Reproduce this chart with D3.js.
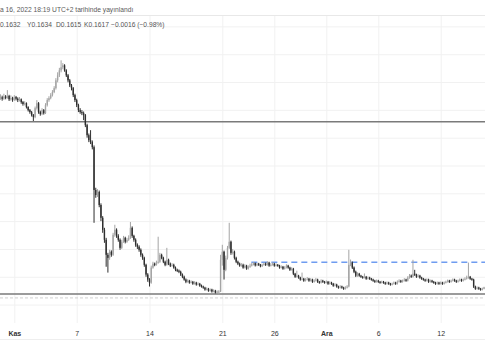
<!DOCTYPE html>
<html><head><meta charset="utf-8">
<script src="https://cdn.jsdelivr.net/npm/d3@7"></script>
<style>
html,body{margin:0;padding:0;background:#fff;overflow:hidden}
svg{display:block;font-family:"Liberation Sans",Arial,sans-serif}
</style></head><body>
<svg id="c" width="485" height="360"></svg>
<script>
const headerLine = "a 16, 2022 18:19 UTC+2 tarihinde yayınlandı";
const ohlcLabels = ["0.1632", "Y0.1634", "D0.1615", "K0.1617", "−0.0016 (−0.98%)"];
const tickDates = ["2022-11-01", "2022-11-07", "2022-11-14", "2022-11-21", "2022-11-26", "2022-12-01", "2022-12-06", "2022-12-12"];
const tickLabels = ["Kas", "7", "14", "21", "26", "Ara", "6", "12"];
const boldTicks = ["Kas", "Ara"];
const gridPrices = [0.1, 0.2, 0.3, 0.4, 0.5, 0.6, 0.7, 0.8, 0.9, 1.0, 1.1];
const startTime = "2022-10-30T16:00:00Z";
const barHours = 4;
const firstOpen = 0.842;
const closes = [
0.845,0.840,0.848,0.843,0.850,0.838,0.842,0.836,0.846,0.840,
0.835,0.838,0.828,0.821,0.824,0.810,0.799,0.792,0.781,0.774,
0.806,0.824,0.792,0.785,0.799,0.788,0.817,0.835,0.842,0.853,
0.864,0.878,0.906,0.924,0.942,0.953,0.960,0.942,0.924,0.906,
0.888,0.878,0.853,0.835,0.817,0.799,0.792,0.788,0.781,0.745,
0.709,0.691,0.684,0.666,0.512,0.494,0.505,0.458,0.412,0.369,
0.333,0.279,0.268,0.290,0.279,0.351,0.369,0.347,0.333,0.304,
0.326,0.340,0.326,0.333,0.340,0.376,0.347,0.333,0.315,0.308,
0.297,0.279,0.268,0.243,0.208,0.190,0.179,0.233,0.247,0.243,
0.251,0.254,0.279,0.268,0.254,0.243,0.261,0.247,0.240,0.243,
0.233,0.225,0.222,0.218,0.208,0.200,0.190,0.182,0.186,0.179,
0.182,0.175,0.179,0.172,0.175,0.168,0.165,0.161,0.154,0.157,
0.150,0.154,0.147,0.150,0.143,0.147,0.147,0.261,0.290,0.225,
0.268,0.304,0.326,0.286,0.290,0.268,0.254,0.247,0.240,0.243,
0.233,0.240,0.229,0.236,0.240,0.245,0.249,0.241,0.247,0.243,
0.238,0.243,0.247,0.243,0.251,0.240,0.243,0.247,0.240,0.243,
0.240,0.233,0.236,0.229,0.233,0.240,0.233,0.225,0.229,0.211,
0.200,0.204,0.197,0.190,0.193,0.186,0.190,0.193,0.186,0.190,
0.182,0.186,0.190,0.182,0.179,0.186,0.182,0.179,0.182,0.175,
0.179,0.175,0.168,0.172,0.165,0.161,0.165,0.161,0.157,0.161,
0.165,0.243,0.251,0.233,0.218,0.204,0.211,0.204,0.200,0.197,
0.200,0.193,0.197,0.193,0.190,0.186,0.182,0.186,0.182,0.179,
0.182,0.179,0.175,0.179,0.175,0.172,0.175,0.179,0.175,0.182,
0.186,0.182,0.186,0.190,0.186,0.197,0.204,0.200,0.211,0.208,
0.200,0.204,0.197,0.193,0.190,0.186,0.190,0.182,0.186,0.182,
0.179,0.175,0.179,0.175,0.179,0.175,0.179,0.182,0.186,0.182,
0.186,0.190,0.186,0.182,0.186,0.190,0.186,0.190,0.193,0.197,
0.200,0.193,0.190,0.165,0.157,0.161,0.157,0.154,0.157,0.162];
const highs = [
0.856,0.851,0.858,0.853,0.871,0.854,0.852,0.847,0.853,0.850,
0.845,0.846,0.841,0.832,0.831,0.827,0.813,0.803,0.796,0.785,
0.812,0.835,0.828,0.797,0.806,0.803,0.824,0.842,0.849,0.860,
0.871,0.885,0.914,0.935,0.951,0.978,0.968,0.964,0.946,0.929,
0.911,0.893,0.882,0.858,0.840,0.822,0.806,0.799,0.794,0.785,
0.750,0.715,0.727,0.690,0.672,0.520,0.515,0.510,0.464,0.418,
0.376,0.340,0.286,0.297,0.295,0.358,0.387,0.374,0.353,0.338,
0.333,0.347,0.344,0.340,0.349,0.397,0.381,0.351,0.338,0.320,
0.313,0.302,0.284,0.272,0.247,0.213,0.195,0.240,0.254,0.251,
0.258,0.344,0.286,0.283,0.272,0.258,0.304,0.265,0.251,0.249,
0.247,0.237,0.229,0.226,0.222,0.212,0.204,0.194,0.191,0.189,
0.187,0.185,0.184,0.182,0.180,0.178,0.172,0.168,0.164,0.162,
0.160,0.158,0.157,0.155,0.153,0.151,0.152,0.279,0.315,0.294,
0.276,0.311,0.394,0.330,0.300,0.294,0.272,0.258,0.251,0.249,
0.247,0.245,0.243,0.241,0.247,0.250,0.253,0.251,0.250,0.250,
0.246,0.247,0.251,0.251,0.256,0.254,0.249,0.252,0.250,0.248,
0.246,0.243,0.241,0.239,0.238,0.245,0.243,0.236,0.234,0.232,
0.214,0.222,0.207,0.200,0.215,0.196,0.195,0.199,0.196,0.195,
0.193,0.191,0.196,0.193,0.185,0.191,0.189,0.185,0.187,0.185,
0.184,0.182,0.178,0.177,0.175,0.168,0.170,0.168,0.164,0.166,
0.170,0.297,0.262,0.255,0.237,0.222,0.216,0.214,0.207,0.203,
0.212,0.203,0.201,0.200,0.196,0.193,0.189,0.190,0.189,0.185,
0.186,0.185,0.182,0.183,0.182,0.178,0.179,0.183,0.182,0.187,
0.191,0.189,0.190,0.195,0.193,0.202,0.210,0.208,0.261,0.225,
0.211,0.209,0.207,0.200,0.196,0.193,0.194,0.193,0.190,0.189,
0.185,0.182,0.183,0.182,0.183,0.182,0.183,0.186,0.190,0.189,
0.190,0.194,0.193,0.189,0.190,0.194,0.193,0.194,0.198,0.204,
0.251,0.203,0.196,0.193,0.168,0.165,0.164,0.160,0.161,0.164];
const lows = [
0.836,0.833,0.836,0.838,0.840,0.832,0.833,0.829,0.832,0.834,
0.828,0.830,0.822,0.815,0.816,0.805,0.794,0.786,0.776,0.760,
0.770,0.801,0.786,0.779,0.781,0.783,0.785,0.812,0.829,0.838,
0.848,0.860,0.873,0.899,0.918,0.935,0.946,0.937,0.918,0.899,
0.882,0.870,0.846,0.828,0.810,0.792,0.786,0.781,0.763,0.738,
0.700,0.684,0.677,0.658,0.394,0.484,0.487,0.450,0.400,0.358,
0.322,0.236,0.215,0.261,0.272,0.275,0.344,0.340,0.326,0.297,
0.300,0.322,0.320,0.322,0.329,0.336,0.340,0.326,0.308,0.300,
0.290,0.272,0.261,0.236,0.200,0.182,0.165,0.175,0.229,0.238,
0.240,0.247,0.250,0.263,0.249,0.238,0.240,0.242,0.235,0.236,
0.229,0.220,0.217,0.213,0.203,0.195,0.186,0.177,0.179,0.175,
0.176,0.171,0.172,0.168,0.169,0.164,0.161,0.157,0.150,0.151,
0.146,0.147,0.143,0.144,0.140,0.141,0.136,0.145,0.240,0.190,
0.220,0.262,0.300,0.279,0.280,0.262,0.249,0.242,0.236,0.236,
0.229,0.230,0.225,0.226,0.232,0.237,0.241,0.237,0.238,0.239,
0.234,0.235,0.240,0.239,0.240,0.236,0.237,0.240,0.236,0.237,
0.236,0.229,0.230,0.225,0.226,0.230,0.229,0.221,0.222,0.206,
0.196,0.197,0.193,0.186,0.187,0.182,0.183,0.187,0.182,0.183,
0.178,0.179,0.183,0.178,0.175,0.176,0.178,0.175,0.176,0.171,
0.172,0.171,0.164,0.165,0.161,0.157,0.158,0.157,0.153,0.154,
0.158,0.162,0.238,0.228,0.213,0.199,0.200,0.200,0.196,0.193,
0.194,0.189,0.190,0.189,0.186,0.182,0.178,0.179,0.178,0.175,
0.176,0.175,0.171,0.172,0.171,0.168,0.169,0.172,0.171,0.172,
0.179,0.178,0.179,0.183,0.182,0.183,0.193,0.196,0.197,0.203,
0.196,0.197,0.193,0.189,0.186,0.182,0.183,0.178,0.179,0.178,
0.175,0.171,0.172,0.171,0.172,0.171,0.172,0.176,0.179,0.178,
0.179,0.183,0.182,0.178,0.179,0.183,0.182,0.183,0.187,0.190,
0.193,0.189,0.186,0.160,0.153,0.154,0.153,0.150,0.151,0.155];
const solidLevels = [0.757, 0.138];
const dottedLevel = 0.124;
const blueLevel = 0.252;
const blueStart = "2022-11-23T19:00:00Z";

const W = 485, paneTop = 15, paneBottom = 323;
const svg = d3.select("#c");
const x = d3.scaleUtc()
  .domain([new Date("2022-11-01T00:00:00Z"), new Date("2022-12-12T00:00:00Z")])
  .range([14.3, 440.7]);
const y = d3.scaleLinear().domain([0.1, 1.1]).range([304.6, 26.4]);
const tDates = tickDates.map(d => new Date(d + "T00:00:00Z"));

// horizontal grid
const gy = svg.append("g").call(d3.axisLeft(y).tickValues(gridPrices).tickSize(-W).tickFormat(""));
gy.select(".domain").remove();
gy.selectAll("line").attr("stroke", "#f1f1f1");
// vertical grid
const gx = svg.append("g").attr("transform", `translate(0,${paneBottom})`)
  .call(d3.axisBottom(x).tickValues(tDates).tickSize(-(paneBottom - paneTop)).tickFormat(""));
gx.select(".domain").remove();
gx.selectAll("line").attr("stroke", "#f1f1f1");
// pane borders
svg.append("line").attr("x1", 0).attr("x2", W).attr("y1", paneTop + 0.5).attr("y2", paneTop + 0.5).attr("stroke", "#e8e8e8");
svg.append("line").attr("x1", 0).attr("x2", W).attr("y1", 339.5).attr("y2", 339.5).attr("stroke", "#eeeeee");

// x labels
const lx = svg.append("g").attr("transform", `translate(0,${paneBottom + 4})`)
  .call(d3.axisBottom(x).tickValues(tDates).tickSize(0).tickPadding(4)
    .tickFormat((d, i) => tickLabels[i]));
lx.select(".domain").remove();
lx.selectAll("text").attr("font-family", "'Liberation Sans',Arial,sans-serif").attr("font-size", 7)
  .attr("fill", "#333")
  .attr("font-weight", (d, i) => boldTicks.includes(tickLabels[i]) ? "bold" : "normal");

// level lines
svg.selectAll(".lvl").data(solidLevels).join("line").attr("class", "lvl")
  .attr("x1", 0).attr("x2", W).attr("y1", d => y(d)).attr("y2", d => y(d))
  .attr("stroke", "#7a7a7a").attr("stroke-width", 1.5);
svg.append("line").attr("x1", 0).attr("x2", W).attr("y1", y(dottedLevel)).attr("y2", y(dottedLevel))
  .attr("stroke", "#d0d0d0").attr("stroke-width", 1).attr("stroke-dasharray", "3,2");
svg.append("line").attr("x1", x(new Date(blueStart))).attr("x2", W)
  .attr("y1", y(blueLevel)).attr("y2", y(blueLevel))
  .attr("stroke", "#6f9cf0").attr("stroke-width", 1.5).attr("stroke-dasharray", "6,4");

// candles
const t0 = new Date(startTime).getTime();
const bars = closes.map((c, i) => ({
  t: new Date(t0 + i * barHours * 3600e3),
  o: i === 0 ? firstOpen : closes[i - 1], c, h: highs[i], l: lows[i]
}));
const upCol = "#a4a4a4", dnCol = "#2e2e2e";
const g = svg.append("g");
g.selectAll(".wick").data(bars).join("line")
  .attr("x1", d => x(d.t)).attr("x2", d => x(d.t))
  .attr("y1", d => y(d.h)).attr("y2", d => y(d.l))
  .attr("stroke", d => d.c >= d.o ? upCol : dnCol).attr("stroke-width", 1);
g.selectAll(".body").data(bars).join("rect")
  .attr("x", d => x(d.t) - 0.7).attr("width", 1.4)
  .attr("y", d => y(Math.max(d.o, d.c)))
  .attr("height", d => Math.max(1, Math.abs(y(d.o) - y(d.c))))
  .attr("fill", d => d.c >= d.o ? upCol : dnCol);

// header text
svg.append("text").attr("x", 0).attr("y", 11.5).attr("font-size", 6.7).attr("fill", "#5a5a5a").text(headerLine);
const ohlcX = [0, 27, 56, 84, 111];
svg.append("text").attr("y", 26.5).attr("font-size", 6.7).attr("fill", "#555")
  .selectAll("tspan").data(ohlcLabels).join("tspan")
  .attr("x", (d, i) => ohlcX[i]).text(d => d);
</script>
</body></html>
